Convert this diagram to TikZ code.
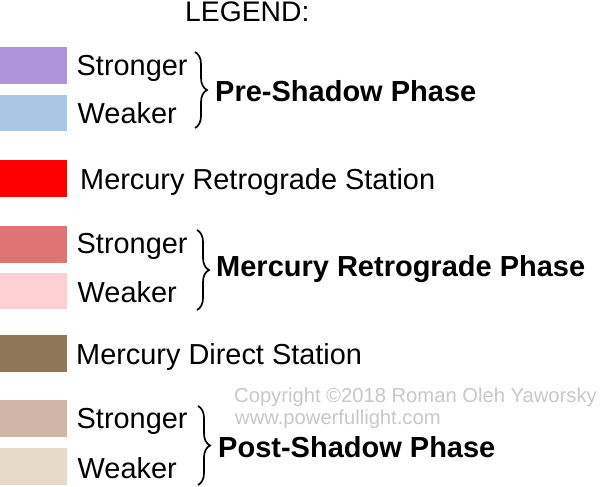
\documentclass[tikz,border=0pt]{standalone}
\usepackage{fontspec}
\setmainfont{Liberation Sans}
\usetikzlibrary{decorations.pathreplacing}

\definecolor{preStrong}{RGB}{175,148,220}
\definecolor{preWeak}{RGB}{169,198,228}
\definecolor{retroStation}{RGB}{255,0,0}
\definecolor{retroStrong}{RGB}{222,116,116}
\definecolor{retroWeak}{RGB}{255,208,211}
\definecolor{directStation}{RGB}{143,118,89}
\definecolor{postStrong}{RGB}{208,182,166}
\definecolor{postWeak}{RGB}{230,217,200}
\definecolor{copyGray}{RGB}{200,200,200}

\begin{document}
\begin{tikzpicture}[x=1pt,y=-1pt,
  swatch/.style={rectangle, inner sep=0pt, minimum width=66.5pt, minimum height=36.5pt, anchor=west},
  keytext/.style={anchor=base west, inner sep=0pt, font=\fontsize{28.9}{34}\selectfont},
  phasetext/.style={anchor=base west, inner sep=0pt, font=\fontsize{29}{34}\selectfont\bfseries},
  phasebrace/.style={decorate, decoration={brace, amplitude=12pt}, line width=1.7pt}]
\useasboundingbox (0,0) rectangle (600,487);
% heading
\node[anchor=base west, inner sep=0pt, font=\fontsize{28.3}{34}\selectfont] (legend) at (185,22) {LEGEND:};
% pre-shadow phase
\node[swatch, fill=preStrong] (s1) at (0,65.5) {};
\node[swatch, fill=preWeak] (w1) at (0,113) {};
\node[keytext] (ts1) at (76.5,75.5) {Stronger};
\node[keytext] (tw1) at (77.5,123) {Weaker};
\coordinate (b1top) at (195,52);
\coordinate (b1bot) at (195,128);
\draw[phasebrace] (b1top) -- (b1bot);
\node[phasetext] (p1) at (215,101.5) {Pre-Shadow Phase};
% retrograde station
\node[swatch, fill=retroStation] (rs) at (0,178.5) {};
\node[keytext] (trs) at (80,189.5) {Mercury Retrograde Station};
% retrograde phase
\node[swatch, fill=retroStrong] (s2) at (0,244.5) {};
\node[swatch, fill=retroWeak] (w2) at (0,291) {};
\node[keytext] (ts2) at (76.5,253) {Stronger};
\node[keytext] (tw2) at (77.5,302) {Weaker};
\coordinate (b2top) at (197,230);
\coordinate (b2bot) at (197,310);
\draw[phasebrace] (b2top) -- (b2bot);
\node[phasetext] (p2) at (216,276) {Mercury Retrograde Phase};
% direct station
\node[swatch, fill=directStation] (ds) at (0,353.5) {};
\node[keytext] (tds) at (76,364) {Mercury Direct Station};
% copyright
\node[anchor=base west, inner sep=0pt, text=copyGray, font=\fontsize{20.2}{22}\selectfont] (copy1) at (234,402) {Copyright ©2018 Roman Oleh Yaworsky};
\node[anchor=base west, inner sep=0pt, text=copyGray, font=\fontsize{20.2}{22}\selectfont] (copy2) at (235,424) {www.powerfullight.com};
% post-shadow phase
\node[swatch, fill=postStrong] (s3) at (0,418.5) {};
\node[swatch, fill=postWeak] (w3) at (0,466.5) {};
\node[keytext] (ts3) at (76.5,428) {Stronger};
\node[keytext] (tw3) at (77.5,478.5) {Weaker};
\coordinate (b3top) at (198,406);
\coordinate (b3bot) at (198,485);
\draw[phasebrace] (b3top) -- (b3bot);
\node[phasetext] (p3) at (218,457.5) {Post-Shadow Phase};
\end{tikzpicture}
\end{document}
